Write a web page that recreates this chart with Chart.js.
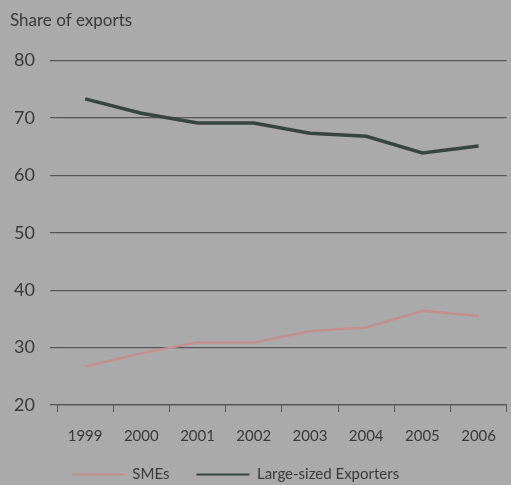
<!DOCTYPE html>
<html>
<head>
<meta charset="utf-8">
<script src="https://cdn.jsdelivr.net/npm/chart.js@4"></script>
<style>
  html, body { margin: 0; padding: 0; background: #aaaaaa; }
  #wrap { width: 511px; height: 485px; }
</style>
</head>
<body>
<div id="wrap"><canvas id="line-chartcanvas"></canvas></div>
<script>
var years = ["1999", "2000", "2001", "2002", "2003", "2004", "2005", "2006"];
var smes = [26.7, 29.0, 30.9, 30.9, 32.9, 33.5, 36.4, 35.5];
var large = [73.3, 70.8, 69.1, 69.1, 67.3, 66.8, 63.9, 65.1];
var yTicks = [20, 30, 40, 50, 60, 70, 80];

var textColor = "#3a3a3a";
var gridColor = "#555555";

var ctx = document.getElementById("line-chartcanvas");

// nudge the legend left/down and let the x labels spill below their box
var legendShift = {
    id: "legendShift",
    afterLayout: function (chart) {
        var lg = chart.legend;
        lg.left -= 25; lg.right -= 25;
        lg.top += 7; lg.bottom += 7;
        chart.scales.x.bottom += 40;
    }
};

var data = {
    labels: years,
    datasets: [
        {
            label: "SMEs",
            data: smes,
            borderColor: "#c4908f",
            backgroundColor: "#c4908f",
            borderWidth: 2.5,
            pointRadius: 0,
            tension: 0,
            fill: false
        },
        {
            label: "Large-sized Exporters",
            data: large,
            borderColor: "#37443f",
            backgroundColor: "#37443f",
            borderWidth: 3.5,
            pointRadius: 0,
            tension: 0,
            fill: false
        }
    ]
};

var options = {
    responsive: true,
    maintainAspectRatio: false,
    animation: false,
    layout: { padding: { left: 10, right: 0, top: 6, bottom: 0 } },
    plugins: {
        title: {
            display: true,
            text: "Share of exports",
            align: "start",
            color: textColor,
            font: { family: "Lato", size: 17, weight: "normal" },
            padding: { top: 4, bottom: 30 }
        },
        legend: {
            display: true,
            position: "bottom",
            labels: {
                color: textColor,
                font: { family: "Lato", size: 15 },
                boxWidth: 53,
                boxHeight: 2,
                padding: 27,
                generateLabels: function (chart) {
                    var items = Chart.defaults.plugins.legend.labels.generateLabels(chart);
                    items.forEach(function (it) { it.lineWidth = 0; });
                    return items;
                }
            }
        },
        tooltip: { enabled: false }
    },
    scales: {
        x: {
            offset: true,
            afterFit: function (axis) { axis.height = 28; },
            grid: {
                offset: true,
                drawOnChartArea: false,
                drawTicks: true,
                tickLength: 7,
                color: gridColor
            },
            border: { display: true, color: gridColor, width: 1.2 },
            ticks: {
                color: textColor,
                font: { family: "Lato", size: 15 },
                padding: 15,
                maxRotation: 0
            }
        },
        y: {
            min: 20,
            max: 80,
            afterBuildTicks: function (axis) {
                axis.ticks = yTicks.map(function (v) { return { value: v }; });
            },
            afterFit: function (axis) { axis.width = 47; },
            grid: {
                color: gridColor,
                lineWidth: 1.2,
                drawTicks: true,
                tickLength: 7
            },
            border: { display: false },
            ticks: {
                color: textColor,
                font: { family: "Lato", size: 18 },
                padding: 15
            }
        }
    }
};

var chart = new Chart(ctx, {
    type: "line",
    data: data,
    options: options,
    plugins: [legendShift]
});
</script>
</body>
</html>
